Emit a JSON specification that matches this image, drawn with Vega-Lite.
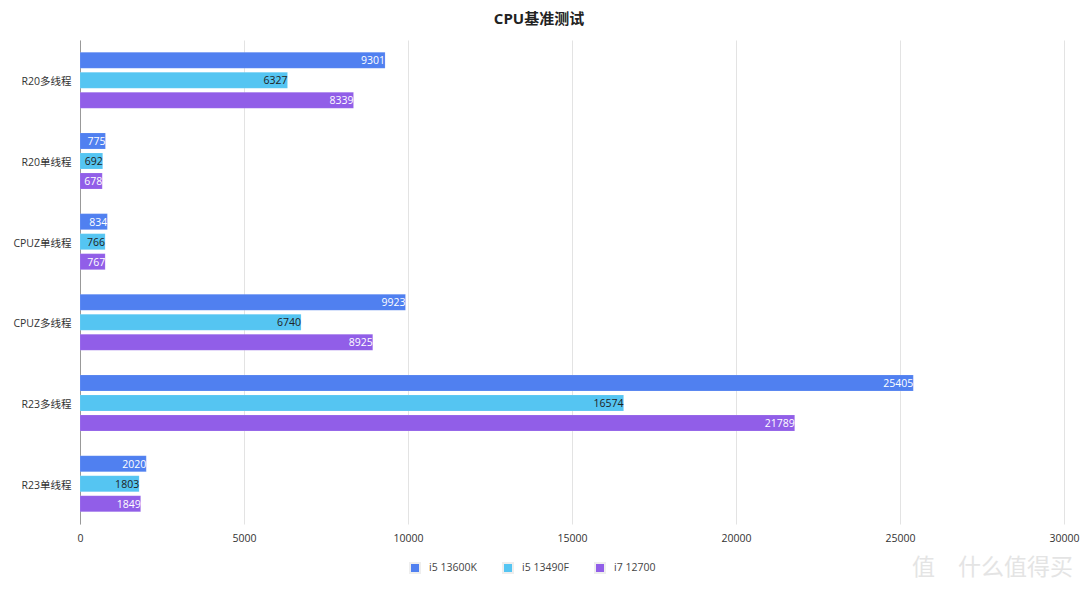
{
"$schema":"https://vega.github.io/schema/vega-lite/v6.json",
"width":984,"height":484,
"padding":{"left":80,"top":40,"right":16,"bottom":67},
"autosize":{"type":"none"},
"background":"#ffffff",
"title":{"text":"CPU基准测试","font":"Open Sans, Noto Sans CJK SC","fontSize":15,"fontWeight":"bold","color":"#222222","anchor":"middle","frame":"group","offset":13,"dx":-33},
"config":{"view":{"stroke":null},"font":"Open Sans, Noto Sans CJK SC"},
"data":{"values":[
{"test":"R20多线程","cpu":"i5 13600K","score":9301},
{"test":"R20多线程","cpu":"i5 13490F","score":6327},
{"test":"R20多线程","cpu":"i7 12700","score":8339},
{"test":"R20单线程","cpu":"i5 13600K","score":775},
{"test":"R20单线程","cpu":"i5 13490F","score":692},
{"test":"R20单线程","cpu":"i7 12700","score":678},
{"test":"CPUZ单线程","cpu":"i5 13600K","score":834},
{"test":"CPUZ单线程","cpu":"i5 13490F","score":766},
{"test":"CPUZ单线程","cpu":"i7 12700","score":767},
{"test":"CPUZ多线程","cpu":"i5 13600K","score":9923},
{"test":"CPUZ多线程","cpu":"i5 13490F","score":6740},
{"test":"CPUZ多线程","cpu":"i7 12700","score":8925},
{"test":"R23多线程","cpu":"i5 13600K","score":25405},
{"test":"R23多线程","cpu":"i5 13490F","score":16574},
{"test":"R23多线程","cpu":"i7 12700","score":21789},
{"test":"R23单线程","cpu":"i5 13600K","score":2020},
{"test":"R23单线程","cpu":"i5 13490F","score":1803},
{"test":"R23单线程","cpu":"i7 12700","score":1849}
]},
"encoding":{
"y":{"field":"test","type":"nominal","sort":null,"title":null,
"scale":{"paddingInner":0.256,"paddingOuter":0.128},
"axis":{"ticks":false,"labelFontSize":10.5,"labelColor":"#333333","labelPadding":9,"labelOffset":2,"domainColor":"#999999","domainWidth":1,"grid":false}},
"yOffset":{"field":"cpu","type":"nominal","sort":["i5 13600K","i5 13490F","i7 12700"],"scale":{"paddingInner":0.2,"paddingOuter":0.1}},
"x":{"field":"score","type":"quantitative","title":"值\u3000什么值得买",
"scale":{"domain":[0,30000],"nice":false},
"axis":{"values":[0,5000,10000,15000,20000,25000,30000],"format":"d","grid":true,"gridColor":"#e3e3e3","gridWidth":1,"ticks":false,"domain":false,"labelFontSize":10.5,"labelColor":"#333333","labelPadding":9,"labelFlush":false,"titleColor":"#e4e4e4","titleFontSize":23,"titleFontWeight":"normal","titleX":912,"titleY":32}}
},
"layer":[
{"mark":{"type":"bar","stroke":"#ffffff","strokeOpacity":0.25,"strokeWidth":0.5},
"encoding":{"color":{"field":"cpu","type":"nominal","sort":["i5 13600K","i5 13490F","i7 12700"],
"scale":{"domain":["i5 13600K","i5 13490F","i7 12700"],"range":["#5080f0","#55c5f2","#915ee8"]},
"legend":{"title":null,"orient":"none","legendX":329,"legendY":522,"direction":"horizontal","symbolType":"square","symbolSize":100,"symbolStrokeColor":"#eeeeee","symbolStrokeWidth":2,"labelFontSize":10.5,"labelColor":"#444444","columnPadding":22,"labelOffset":8}}}},
{"mark":{"type":"text","align":"right","baseline":"middle","dx":0,"dy":1,"fontSize":10.5},
"encoding":{"text":{"field":"score","type":"quantitative","format":"d"},
"color":{"condition":{"test":"datum.cpu==='i5 13490F'","value":"#222222"},"value":"#ffffff"}}}
]
}
